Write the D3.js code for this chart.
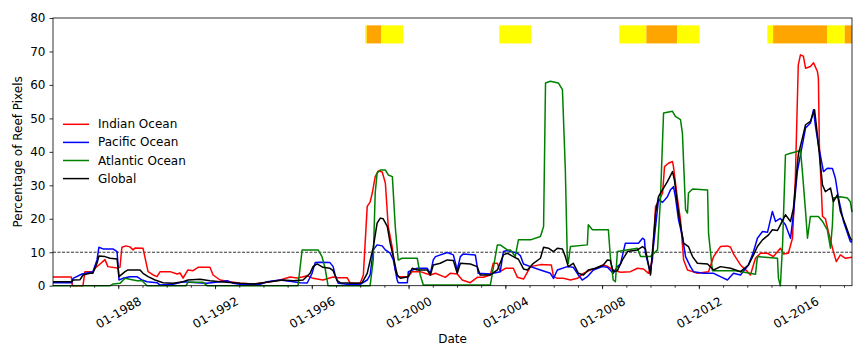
<!DOCTYPE html>
<html>
<head>
<meta charset="utf-8">
<script src="https://cdn.jsdelivr.net/npm/d3@7"></script>
<style>
  body { margin: 0; background: #fff; }
  svg { font-family: "DejaVu Sans", sans-serif; }
</style>
</head>
<body>
<svg id="chart"></svg>
<script>
// Series values as [decimal year, percentage of reef pixels]
const indianOcean = [
  [1985.30,2.6],[1986.06,2.6],[1986.10,0],[1986.54,0],[1986.62,4.2],[1986.95,4.2],[1987.04,5.2],[1987.20,6.2],
  [1987.45,7.8],[1987.57,5.7],[1987.95,5.3],[1988.07,5.5],[1988.15,11.5],[1988.32,11.9],[1988.48,11.6],[1988.61,10.7],
  [1988.70,11.3],[1989.02,11.2],[1989.23,4.2],[1989.44,3.2],[1989.60,2.7],[1989.73,4.2],[1990.14,4.2],[1990.43,3.5],
  [1990.55,3.8],[1990.68,2.3],[1990.88,4.7],[1991.09,4.5],[1991.30,5.5],[1991.79,5.5],[1991.92,3.2],[1992.21,1.7],
  [1992.62,1.2],[1993.04,0.7],[1993.57,0.5],[1994.15,1.0],[1994.69,1.7],[1995.10,2.6],[1995.39,2.3],[1995.60,2.6],
  [1995.81,3.0],[1996.05,2.2],[1996.46,1.7],[1996.88,2.6],[1997.09,2.4],[1997.46,2.4],[1997.59,0.7],[1998.00,0.7],
  [1998.13,3.2],[1998.29,23.7],[1998.41,25],[1998.50,27.7],[1998.62,32.6],[1998.75,34.3],[1998.91,34.0],[1999.04,30.7],
  [1999.16,17.7],[1999.33,11.2],[1999.45,4.7],[1999.57,2.7],[1999.99,2.7],[2000.15,4.2],[2000.48,4.2],[2000.90,3.2],
  [2001.11,3.7],[2001.52,2.5],[2001.72,3.7],[2002.01,3.5],[2002.22,1.7],[2002.55,0.9],[2002.84,2.5],[2003.09,2.5],
  [2003.38,3.2],[2003.50,6.7],[2003.67,6.7],[2003.79,4.2],[2004.00,5.2],[2004.33,5.2],[2004.50,2.5],[2004.75,2.0],
  [2005.04,5.7],[2005.45,6.3],[2005.90,6.2],[2005.99,2.7],[2006.15,2.2],[2006.40,2.2],[2006.69,1.7],[2006.98,2.2],
  [2007.23,3.7],[2007.51,4.7],[2007.80,5.3],[2008.05,6.2],[2008.22,5.8],[2008.46,4.7],[2008.76,4.0],[2009.17,4.2],
  [2009.46,5.2],[2009.71,5.0],[2009.92,3.7],[2010.08,7.7],[2010.21,23.7],[2010.33,25.1],[2010.50,27.7],[2010.58,35.6],
  [2010.74,36.6],[2010.91,37.1],[2010.95,35.6],[2011.12,25.7],[2011.24,19.7],[2011.37,7.7],[2011.53,4.7],[2011.74,4.2],
  [2011.94,3.7],[2012.40,4.2],[2012.61,8.7],[2012.89,11.7],[2013.18,11.9],[2013.31,11.5],[2013.43,9.5],[2013.72,6.2],
  [2014.01,4.2],[2014.13,3.2],[2014.34,8.2],[2014.55,9.7],[2014.84,9.7],[2015.08,8.7],[2015.37,11.2],[2015.50,9.5],
  [2015.70,9.7],[2015.87,14.2],[2015.99,32.1],[2016.11,66],[2016.20,69],[2016.32,68.6],[2016.41,65],[2016.61,65.5],
  [2016.74,66.6],[2016.90,64],[2016.94,62],[2016.98,42],[2017.11,20.7],[2017.23,20],[2017.35,16.2],[2017.56,10.2],
  [2017.68,7.2],[2017.85,9.2],[2018.06,8.2],[2018.33,8.5]
];

const pacificOcean = [
  [1985.30,0.9],[1986.08,0.9],[1986.13,2.2],[1986.50,3.5],[1986.95,4.2],[1987.12,7.7],[1987.20,11.5],[1987.37,11.0],
  [1987.78,11.0],[1987.95,10.2],[1988.03,1.7],[1988.19,2.2],[1988.48,2.7],[1988.77,2.7],[1988.98,1.7],[1989.19,1.2],
  [1989.60,0.9],[1989.73,0.2],[1990.26,0.4],[1990.68,1.2],[1991.26,0.9],[1991.67,0.7],[1992.21,1.2],[1992.50,1.5],
  [1992.75,0.7],[1993.16,0.3],[1993.86,0.4],[1994.15,1.2],[1994.69,1.7],[1995.23,1.2],[1995.52,0.9],[1995.81,0.8],
  [1996.01,3.7],[1996.14,6.9],[1996.34,7.0],[1996.75,6.9],[1996.88,5.7],[1996.96,3.2],[1997.09,0.7],[1997.46,0.4],
  [1998.00,0.4],[1998.29,1.7],[1998.41,3.2],[1998.54,10.7],[1998.70,12.2],[1998.91,11.9],[1999.04,10.7],[1999.24,9.7],
  [1999.37,7.7],[1999.53,1.7],[1999.57,0.9],[1999.95,0.9],[1999.99,4.2],[2000.36,5.2],[2000.77,5.2],[2000.90,3.7],
  [2001.02,7.7],[2001.11,8.7],[2001.60,9.9],[2001.85,9.2],[2002.01,4.7],[2002.14,8.7],[2002.26,9.5],[2002.76,9.2],
  [2002.88,3.7],[2003.38,3.5],[2003.50,3.7],[2003.79,4.2],[2003.92,10.2],[2004.08,10.5],[2004.50,9.7],[2004.62,9.0],
  [2004.75,6.5],[2005.04,5.7],[2005.45,4.7],[2005.86,3.7],[2005.99,2.2],[2006.15,4.7],[2006.56,5.7],[2006.81,5.5],
  [2007.02,3.2],[2007.18,1.7],[2007.39,2.7],[2007.64,4.7],[2008.01,5.7],[2008.22,5.5],[2008.46,3.7],[2008.63,5.7],
  [2008.76,6.5],[2008.96,12.7],[2009.17,12.7],[2009.50,12.7],[2009.67,14.2],[2009.75,13.8],[2009.79,9.7],[2010.00,3.7],
  [2010.21,17.7],[2010.33,25.7],[2010.50,24.9],[2010.70,26.6],[2010.83,28.7],[2010.95,29.6],[2011.03,26.6],[2011.16,19.7],
  [2011.32,14.7],[2011.45,8.7],[2011.65,5.7],[2011.78,4.2],[2012.19,3.7],[2012.61,3.7],[2012.89,2.7],[2013.18,1.7],
  [2013.43,3.7],[2013.72,3.2],[2014.05,6.2],[2014.26,10.2],[2014.42,14.2],[2014.63,16.2],[2014.84,16.0],[2015.04,22.2],
  [2015.17,19.2],[2015.37,20.1],[2015.58,18.2],[2015.79,14.2],[2015.91,21.4],[2016.07,34.1],[2016.20,39.1],[2016.41,47.1],
  [2016.61,48.6],[2016.74,52.6],[2016.82,47.6],[2016.94,42.1],[2017.15,34.1],[2017.31,35.1],[2017.52,35.0],[2017.64,32.2],
  [2017.77,26.2],[2017.98,19.2],[2018.26,13.2],[2018.33,13.0]
];

const atlanticOcean = [
  [1985.30,0],[1987.66,0],[1987.78,0.5],[1988.07,0.7],[1988.28,2.2],[1988.57,1.8],[1988.77,1.5],[1988.98,1.5],
  [1989.19,0],[1990.80,0],[1990.88,1.0],[1991.50,1.0],[1991.67,0],[1995.43,0],[1995.60,10.7],[1996.26,10.7],
  [1996.42,8.7],[1996.55,5.2],[1996.67,0],[1998.41,0],[1998.54,7.7],[1998.62,27.7],[1998.70,33.7],[1998.83,34.6],
  [1999.04,34.6],[1999.16,33.1],[1999.33,32.6],[1999.45,17.7],[1999.57,7.7],[1999.74,8.2],[2000.36,8.2],[2000.48,3.2],
  [2000.61,0.2],[2003.38,0.2],[2003.67,12.2],[2003.79,12.2],[2004.08,10.7],[2004.21,10.7],[2004.41,8.7],[2004.54,13.7],
  [2005.04,13.7],[2005.45,14.7],[2005.58,17.7],[2005.66,60.6],[2005.86,61.1],[2006.19,60.6],[2006.36,58.6],[2006.48,34.6],
  [2006.56,8.7],[2006.60,6.7],[2006.69,11.7],[2007.39,12.2],[2007.43,18.2],[2007.60,16.7],[2008.26,16.7],[2008.34,8.7],
  [2008.46,1.7],[2008.55,1.2],[2008.63,10.2],[2009.46,11.2],[2009.59,8.7],[2010.00,8.7],[2010.29,10.7],[2010.41,25.7],
  [2010.54,51.6],[2010.91,52.1],[2011.03,50.6],[2011.24,49.6],[2011.32,45.6],[2011.45,22.7],[2011.53,21.7],[2011.57,27.7],
  [2011.74,28.9],[2012.36,28.6],[2012.40,15.7],[2012.56,4.5],[2013.51,4.5],[2014.34,3.4],[2014.42,8.7],[2015.25,8.2],
  [2015.29,2.2],[2015.37,0],[2015.46,12.2],[2015.58,39.1],[2015.79,39.6],[2016.07,40.1],[2016.20,40.6],[2016.28,34.1],
  [2016.41,22.2],[2016.49,14.2],[2016.61,20.7],[2016.94,20.7],[2017.11,19.2],[2017.31,16.7],[2017.44,11.2],[2017.52,18.2],
  [2017.56,26.2],[2017.85,26.6],[2018.14,26.2],[2018.26,25.1],[2018.33,22]
];

const globalMean = [
  [1985.30,1.2],[1986.08,1.2],[1986.13,1.7],[1986.42,1.8],[1986.54,3.2],[1986.83,3.7],[1986.95,3.7],[1987.12,6.7],
  [1987.20,8.9],[1987.45,8.7],[1987.66,8.2],[1987.95,8.0],[1988.03,2.7],[1988.28,4.2],[1988.40,4.7],[1988.90,4.7],
  [1989.02,3.7],[1989.23,2.7],[1989.52,1.7],[1989.85,0.9],[1990.26,0.7],[1990.68,1.2],[1990.88,1.7],[1991.38,1.9],
  [1991.79,1.5],[1992.21,1.2],[1993.04,0.7],[1993.57,0.5],[1994.28,1.2],[1994.81,1.7],[1995.23,1.5],[1995.64,1.7],
  [1995.93,3.7],[1996.05,5.7],[1996.22,6.5],[1996.46,5.5],[1996.75,5.2],[1996.88,4.5],[1997.05,1.5],[1997.17,0.9],
  [1997.88,0.7],[1998.08,0.9],[1998.29,3.7],[1998.41,7.5],[1998.54,11.5],[1998.70,18.7],[1998.83,20.2],[1998.95,20.0],
  [1999.12,17.7],[1999.24,12.7],[1999.37,8.7],[1999.53,3.2],[1999.66,2.2],[1999.99,2.7],[2000.15,5.2],[2000.36,4.7],
  [2000.77,4.7],[2000.90,3.2],[2001.02,6.2],[2001.31,6.7],[2001.60,7.7],[2001.85,7.5],[2002.01,3.7],[2002.14,6.7],
  [2002.55,6.5],[2002.84,5.7],[2002.96,3.2],[2003.38,3.2],[2003.67,4.7],[2003.92,9.2],[2004.08,9.7],[2004.33,8.7],
  [2004.54,7.9],[2004.75,5.0],[2004.91,4.7],[2005.16,6.7],[2005.45,8.2],[2005.58,11.5],[2005.78,11.2],[2005.99,10.2],
  [2006.15,11.2],[2006.36,11.0],[2006.48,8.7],[2006.60,5.7],[2006.81,6.7],[2007.02,3.7],[2007.23,3.2],[2007.43,4.7],
  [2007.72,5.2],[2008.05,6.2],[2008.22,7.7],[2008.34,7.5],[2008.46,4.2],[2008.63,4.5],[2008.84,7.7],[2009.05,10.2],
  [2009.46,10.7],[2009.67,11.7],[2009.79,11.0],[2010.00,3.2],[2010.21,21.7],[2010.33,26.6],[2010.50,28.7],[2010.70,31.1],
  [2010.91,34.1],[2010.99,31.6],[2011.16,21.7],[2011.37,12.7],[2011.57,11.7],[2011.74,8.7],[2011.94,6.7],[2012.36,6.5],
  [2012.61,4.7],[2012.89,5.7],[2013.31,5.2],[2013.72,4.2],[2014.05,6.2],[2014.26,9.2],[2014.42,11.7],[2014.63,13.7],
  [2014.88,15.2],[2015.04,16.7],[2015.25,16.5],[2015.37,18.2],[2015.58,21.2],[2015.79,19.2],[2015.91,23.2],[2016.11,39.1],
  [2016.28,44.1],[2016.41,48.1],[2016.61,49.1],[2016.78,52.6],[2016.86,47.6],[2016.94,42.1],[2017.11,30.1],[2017.23,28.1],
  [2017.44,29.2],[2017.56,25.1],[2017.73,27.2],[2017.85,22.2],[2018.06,18.2],[2018.26,14.2],[2018.33,13.5]
];

// Coloured event strip at the top: [start year, end year, level]
const eventBands = [
  [1998.20, 1998.27, "yellow"], [1998.27, 1998.86, "orange"], [1998.86, 1999.77, "yellow"],
  [2003.75, 2005.06, "yellow"],
  [2008.71, 2009.83, "yellow"], [2009.83, 2011.10, "orange"], [2011.10, 2012.03, "yellow"],
  [2014.83, 2015.07, "yellow"], [2015.07, 2017.30, "orange"], [2017.30, 2018.03, "yellow"], [2018.03, 2018.33, "orange"]
];
const bandRange = [72.4, 77.8];

const seriesNames = ["Indian Ocean", "Pacific Ocean", "Atlantic Ocean", "Global"];
const seriesColors = ["red", "blue", "green", "black"];
const yTicks = [0, 10, 20, 30, 40, 50, 60, 70, 80];
const xDomain = [1985.30, 2018.33];
const thresholdValue = 10;

document.addEventListener("DOMContentLoaded", function () {
    const W = 853, H = 345;
    const margin = { top: 18, right: 1, bottom: 59.3, left: 53 };
    const width = W - margin.left - margin.right;
    const height = H - margin.top - margin.bottom;
    const fontSize = "12px";

    const svg = d3.select("#chart").attr("width", W).attr("height", H);
    const g = svg.append("g").attr("transform", `translate(${margin.left},${margin.top})`);

    // decimal year -> Date
    function toDate(yr) {
        const y = Math.floor(yr);
        const start = new Date(y, 0, 1), end = new Date(y + 1, 0, 1);
        return new Date(start.getTime() + (yr - y) * (end - start));
    }

    const x = d3.scaleTime().domain(xDomain.map(toDate)).range([0, width]);
    const y = d3.scaleLinear().domain([0, 80]).range([height, 0]);

    // event strip
    const bandColor = { yellow: "#ffff00", orange: "#ffa500", red: "#ff0000" };
    g.selectAll(".band").data(eventBands).enter().append("rect")
        .attr("x", d => x(toDate(d[0])))
        .attr("width", d => x(toDate(d[1])) - x(toDate(d[0])))
        .attr("y", y(bandRange[1]))
        .attr("height", y(bandRange[0]) - y(bandRange[1]))
        .attr("fill", d => bandColor[d[2]]);

    // threshold line
    g.append("line")
        .attr("x1", 0).attr("x2", width)
        .attr("y1", y(thresholdValue)).attr("y2", y(thresholdValue))
        .attr("stroke", "black").attr("stroke-width", 0.8)
        .attr("stroke-dasharray", "3,1.5");

    // series lines
    const line = d3.line().x(d => x(toDate(d[0]))).y(d => y(d[1]));
    const allSeries = [indianOcean, pacificOcean, atlanticOcean, globalMean];
    allSeries.forEach((s, i) => {
        g.append("path").datum(s)
            .attr("fill", "none")
            .attr("stroke", seriesColors[i])
            .attr("stroke-width", 1.5)
            .attr("stroke-linejoin", "round")
            .attr("d", line);
    });

    // axes: yearly minor ticks, 4-yearly labelled ticks
    const xMinor = g.append("g").attr("transform", `translate(0,${height})`)
        .call(d3.axisBottom(x).ticks(d3.timeYear.every(1)).tickSize(2).tickFormat(""));
    xMinor.select(".domain").remove();
    const xMajor = g.append("g").attr("transform", `translate(0,${height})`)
        .call(d3.axisBottom(x).ticks(d3.timeYear.every(4)).tickSize(3.5).tickFormat(d3.timeFormat("%m-%Y")));
    xMajor.select(".domain").remove();
    xMajor.selectAll("text")
        .attr("font-size", fontSize)
        .attr("fill", "#000")
        .attr("text-anchor", "middle")
        .attr("dy", null)
        .attr("dominant-baseline", "central")
        .attr("y", 27)
        .attr("transform", "rotate(-30,0,27)")
        .style("font-family", "DejaVu Sans");

    const yAxis = g.append("g")
        .call(d3.axisLeft(y).tickValues(yTicks).tickSize(3.5));
    yAxis.select(".domain").remove();
    yAxis.selectAll("text").attr("font-size", fontSize).attr("fill", "#000")
        .style("font-family", "DejaVu Sans").attr("x", -7.5);
    svg.selectAll(".tick line").attr("stroke", "#000").attr("stroke-width", 0.8);

    // frame
    g.append("rect").attr("width", width).attr("height", height)
        .attr("fill", "none").attr("stroke", "#000").attr("stroke-width", 0.8);

    // axis labels
    svg.append("text")
        .attr("x", margin.left + width / 2).attr("y", 339)
        .attr("text-anchor", "middle").attr("dominant-baseline", "central")
        .attr("font-size", fontSize).text("Date");
    svg.append("text")
        .attr("transform", `translate(18,${margin.top + height / 2}) rotate(-90)`)
        .attr("text-anchor", "middle").attr("dominant-baseline", "central")
        .attr("font-size", fontSize).text("Percentage of Reef Pixels");

    // legend
    const legend = svg.append("g").attr("transform", "translate(63,124.3)");
    seriesNames.forEach((name, i) => {
        const row = legend.append("g").attr("transform", `translate(0,${i * 18.1})`);
        row.append("line").attr("x1", 0).attr("x2", 26).attr("y1", 0).attr("y2", 0)
            .attr("stroke", seriesColors[i]).attr("stroke-width", 1.5);
        row.append("text").attr("x", 35).attr("y", 0)
            .attr("dominant-baseline", "central")
            .attr("font-size", fontSize).text(name);
    });
});
</script>
</body>
</html>
